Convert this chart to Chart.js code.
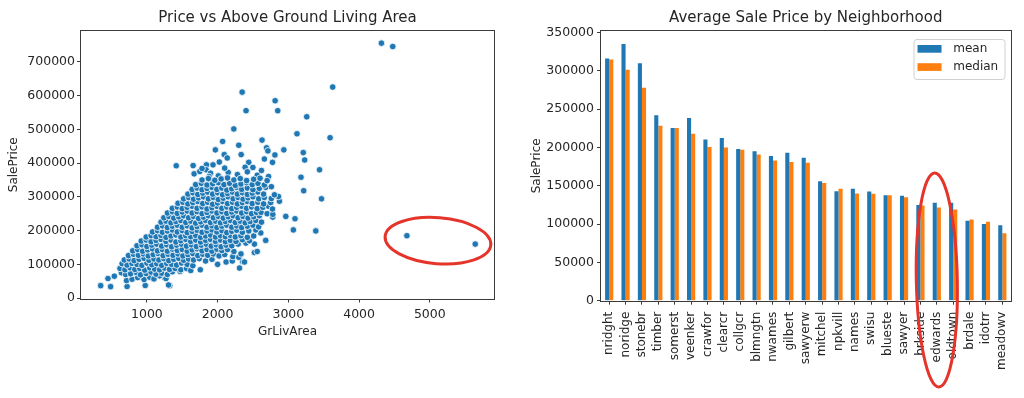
<!DOCTYPE html>
<html>
<head>
<meta charset="utf-8">
<script src="https://cdn.jsdelivr.net/npm/chart.js@4.4.0/dist/chart.umd.min.js"></script>
<style>
    html, body { margin: 0; padding: 0; background: #fff; }
    #wrap { position: relative; width: 1024px; height: 398px; }
    canvas { position: absolute; top: 0; }
    #scatter { left: 0; }
    #bars { left: 512px; }
</style>
</head>
<body>
<div id="wrap">
    <canvas id="scatter" width="512" height="398"></canvas>
    <canvas id="bars" width="512" height="398"></canvas>
</div>
<script>
// ---- data ----
// [GrLivArea, SalePrice]
const scatterPoints = [
    // outliers and sparse points
    [4316,755000],[4476,745000],[3627,625000],[2347,610000],[2813,584500],[2402,555000],[2850,555000],
    [3260,537000],[2229,501000],[3122,486600],[3590,475000],[2071,464000],[2628,468000],[2299,452800],
    [1968,439000],[2692,445000],[2711,436000],[2936,439000],[2094,425000],[2333,425000],[2810,424000],
    [3211,431000],[2136,415000],[2661,412000],[3231,409000],[2024,403000],[2440,402000],[2776,402000],
    [1415,392000],[1654,392500],[1842,394600],[1935,394600],[2389,387500],[2499,387000],[3441,380000],
    [3179,358000],[3217,318000],[3469,294000],[3071,202000],[3388,199000],[2964,242000],[3094,235000],
    [4676,184750],[5642,160000],
    [1668,368000],[1748,375000],[1837,380000],[1900,370000],[2010,362000],[2150,372000],[2280,366000],
    [2420,374000],[2560,364000],[2620,378000],[1780,384000],[2100,385000],[2720,360000],[1880,360000],
    // main cloud, bottom to top
    [347,37000],[487,34000],[720,34500],[977,37500],[1323,37000],[1306,39000],
    [450,58000],[540,65000],[712,52000],[790,56000],[870,61000],[960,55000],[1040,62000],[1100,57000],
    [1250,60000],[1180,66000],[1270,58000],
    [640,75000],[700,70000],[770,72000],[850,76000],[910,69000],[990,73000],[1060,77000],[1130,71000],
    [1210,74000],[1290,70000],[1360,78000],[1470,79000],
    [620,88000],[690,84000],[760,90000],[830,85000],[900,88000],[970,83000],[1040,90000],[1110,86000],
    [1180,84000],[1250,89000],[1320,85000],[1400,88000],[1480,84000],[1560,88000],[1620,82000],[1755,84000],
    [650,102000],[720,98000],[790,103000],[860,100000],[930,97000],[1000,104000],[1070,99000],[1140,102000],
    [1210,97000],[1280,103000],[1350,100000],[1420,98000],[1490,104000],[1570,100000],[1650,96000],
    [2000,100000],[2310,89000],
    [680,113000],[750,116000],[820,111000],[890,115000],[960,118000],[1030,112000],[1100,116000],
    [1170,113000],[1240,117000],[1310,111000],[1380,115000],[1450,118000],[1520,112000],[1590,116000],
    [1660,113000],[1740,117000],[1830,110000],[1920,115000],[2120,107000],[2207,110000],[2355,108000],
    [2380,107000],
    [740,126000],[810,130000],[880,127000],[950,131000],[1020,125000],[1090,129000],[1160,132000],
    [1230,126000],[1300,130000],[1370,127000],[1440,131000],[1510,125000],[1580,129000],[1650,132000],
    [1720,126000],[1790,130000],[1860,127000],[1940,131000],[2020,125000],[2100,129000],[2215,123000],
    [2300,121000],
    [800,140000],[870,144000],[940,139000],[1010,143000],[1080,146000],[1150,140000],[1220,144000],
    [1290,139000],[1360,145000],[1430,141000],[1500,144000],[1570,139000],[1640,143000],[1710,146000],
    [1780,140000],[1850,144000],[1920,139000],[1990,145000],[2060,141000],[2140,144000],[2230,138000],
    [2330,131000],[2520,135000],[2560,138000],
    [860,155000],[930,158000],[1000,153000],[1070,157000],[1140,160000],[1210,154000],[1280,158000],
    [1350,152000],[1420,157000],[1490,160000],[1560,154000],[1630,158000],[1700,153000],[1770,157000],
    [1840,160000],[1910,154000],[1980,158000],[2050,152000],[2120,157000],[2200,155000],[2290,160000],
    [2400,163000],[2520,160000],
    [920,169000],[990,172000],[1060,167000],[1130,171000],[1200,174000],[1270,168000],[1340,172000],
    [1410,166000],[1480,170000],[1550,174000],[1620,168000],[1690,172000],[1760,166000],[1830,171000],
    [1900,174000],[1970,168000],[2040,172000],[2110,167000],[2180,171000],[2260,168000],[2350,173000],
    [2450,170000],[2680,171000],
    [990,181000],[1060,185000],[1130,182000],[1200,186000],[1270,180000],[1340,184000],[1410,187000],
    [1480,181000],[1550,185000],[1620,182000],[1690,186000],[1760,180000],[1830,184000],[1900,187000],
    [1970,181000],[2040,185000],[2110,182000],[2180,186000],[2250,181000],[2330,185000],[2420,180000],
    [2510,184000],[2610,193000],
    [1080,196000],[1150,200000],[1220,195000],[1290,199000],[1360,202000],[1430,196000],[1500,200000],
    [1570,194000],[1640,198000],[1710,201000],[1780,195000],[1850,199000],[1920,202000],[1990,196000],
    [2060,200000],[2130,194000],[2200,198000],[2270,201000],[2350,195000],[2440,199000],[2540,202000],
    [1150,210000],[1220,214000],[1290,209000],[1360,213000],[1430,216000],[1500,210000],[1570,214000],
    [1640,208000],[1710,212000],[1780,216000],[1850,210000],[1920,214000],[1990,209000],[2060,213000],
    [2130,216000],[2200,210000],[2270,214000],[2340,209000],[2420,213000],[2500,216000],[2580,211000],
    [1200,225000],[1270,228000],[1340,223000],[1410,227000],[1480,230000],[1550,224000],[1620,228000],
    [1690,222000],[1760,226000],[1830,230000],[1900,224000],[1970,228000],[2040,223000],[2110,227000],
    [2180,230000],[2250,224000],[2320,228000],[2390,223000],[2460,227000],[2540,230000],[2620,225000],
    [1240,238000],[1310,242000],[1380,237000],[1450,241000],[1520,244000],[1590,238000],[1660,242000],
    [1730,236000],[1800,240000],[1870,244000],[1940,238000],[2010,242000],[2080,237000],[2150,241000],
    [2220,244000],[2290,238000],[2360,242000],[2430,237000],[2510,241000],[2590,244000],[2780,240000],
    [1290,252000],[1360,256000],[1430,251000],[1500,255000],[1570,258000],[1640,252000],[1710,256000],
    [1780,250000],[1850,254000],[1920,258000],[1990,252000],[2060,256000],[2130,251000],[2200,255000],
    [2270,258000],[2340,252000],[2410,256000],[2480,250000],[2550,254000],[2615,254000],[2700,250000],
    [2780,248000],
    [1360,266000],[1430,270000],[1500,265000],[1570,269000],[1640,272000],[1710,266000],[1780,270000],
    [1850,264000],[1920,268000],[1990,272000],[2060,266000],[2130,270000],[2200,265000],[2270,269000],
    [2340,272000],[2410,266000],[2480,270000],[2560,265000],[2640,269000],[2720,272000],[2776,264000],
    [1440,281000],[1510,284000],[1580,279000],[1650,283000],[1720,286000],[1790,280000],[1860,284000],
    [1930,278000],[2000,282000],[2070,286000],[2140,280000],[2210,284000],[2280,279000],[2350,283000],
    [2420,286000],[2490,280000],[2570,284000],[2650,279000],[2750,283000],[2874,287000],
    [1520,294000],[1590,298000],[1660,293000],[1730,297000],[1800,300000],[1870,294000],[1940,298000],
    [2010,292000],[2080,296000],[2150,300000],[2220,294000],[2290,298000],[2360,293000],[2430,297000],
    [2500,300000],[2580,294000],[2660,298000],[2760,295000],[2860,301000],
    [1580,308000],[1650,312000],[1720,307000],[1790,311000],[1860,314000],[1930,308000],[2000,312000],
    [2070,306000],[2140,310000],[2210,314000],[2280,308000],[2350,312000],[2420,307000],[2490,311000],
    [2570,314000],[2650,308000],[2803,306000],
    [1640,322000],[1710,326000],[1780,321000],[1850,325000],[1920,328000],[1990,322000],[2060,326000],
    [2130,320000],[2200,324000],[2270,328000],[2340,322000],[2420,326000],[2500,321000],[2590,325000],
    [2680,328000],[2760,330000],
    [1690,336000],[1770,340000],[1850,335000],[1930,339000],[2010,342000],[2090,336000],[2170,340000],
    [2250,334000],[2330,338000],[2410,342000],[2490,336000],[2570,340000],[2660,335000],
    [1780,350000],[1870,354000],[1960,349000],[2050,353000],[2140,356000],[2230,350000],[2320,354000],
    [2410,348000],[2510,352000],[2600,355000],[2700,348000]
];
const areaTicks = [1000, 2000, 3000, 4000, 5000];
const priceTicks = [0, 100000, 200000, 300000, 400000, 500000, 600000, 700000];

const neighborhoods = ['nridght', 'noridge', 'stonebr', 'timber', 'somerst', 'veenker', 'crawfor',
    'clearcr', 'collgcr', 'blmngtn', 'nwames', 'gilbert', 'sawyerw', 'mitchel', 'npkvill', 'names',
    'swisu', 'blueste', 'sawyer', 'brkside', 'edwards', 'oldtown', 'brdale', 'idotrr', 'meadowv'];
const meanPrice = [316000, 335000, 310000, 242000, 225500, 238500, 210500, 212500, 198000, 195000,
    189000, 193000, 186500, 156000, 143000, 146000, 142500, 137500, 137000, 125000, 128000, 128000,
    104500, 100000, 98500];
const medianPrice = [315000, 301500, 278000, 228500, 225500, 218000, 200500, 200000, 197000, 191000,
    183000, 181000, 180000, 153500, 146000, 140000, 139500, 137500, 135000, 124300, 121750, 119000,
    106000, 103000, 88000];
const barTicks = [0, 50000, 100000, 150000, 200000, 250000, 300000, 350000];

// ---- style ----
const BLUE = '#1f77b4';
const ORANGE = '#ff7f0e';
const TEXT = '#262626';
const AXIS = '#3a3a3a';
const RED = '#e5352b';

Chart.defaults.font.family = "'DejaVu Sans', sans-serif";
Chart.defaults.font.size = 12;
Chart.defaults.color = TEXT;

const framePlugin = {
    id: 'frame',
    afterDraw(chart) {
        const { ctx, chartArea: a } = chart;
        ctx.save();
        ctx.strokeStyle = AXIS;
        ctx.lineWidth = 1;
        ctx.strokeRect(Math.round(a.left) - 0.5, Math.round(a.top) - 0.5,
            Math.round(a.right - a.left) + 1, Math.round(a.bottom - a.top) + 1);
        ctx.restore();
    }
};

const ringPlugin = {
    id: 'ring',
    afterDraw(chart, args, o) {
        const { ctx, scales } = chart;
        const cx = scales.x.getPixelForValue(o.x);
        const cy = scales.y.getPixelForValue(o.y);
        ctx.save();
        ctx.strokeStyle = RED;
        ctx.lineWidth = 3;
        ctx.beginPath();
        ctx.ellipse(cx, cy, o.rx, o.ry, o.rot, 0, Math.PI * 2);
        ctx.stroke();
        ctx.restore();
    }
};

const boxLegend = {
    id: 'boxLegend',
    afterDraw(chart) {
        const { ctx, chartArea: a } = chart;
        const w = 91, h = 40;
        const x0 = a.right - 6 - w, y0 = a.top + 8;
        ctx.save();
        ctx.fillStyle = 'rgba(255,255,255,0.85)';
        ctx.strokeStyle = '#d0d0d0';
        ctx.lineWidth = 1;
        ctx.beginPath();
        ctx.roundRect(x0 + 0.5, y0 + 0.5, w, h, 3);
        ctx.fill();
        ctx.stroke();
        ctx.font = "12px 'DejaVu Sans', sans-serif";
        ctx.textBaseline = 'middle';
        chart.data.datasets.forEach((ds, i) => {
            const cy = y0 + 9.8 + i * 18.2;
            ctx.fillStyle = ds.backgroundColor;
            ctx.fillRect(x0 + 4, cy - 3.8, 24, 7.7);
            ctx.fillStyle = TEXT;
            ctx.fillText(ds.label, x0 + 39.7, cy);
        });
        ctx.restore();
    }
};

function titleOpts(text) {
    return {
        display: true, text, fullSize: false, color: TEXT,
        font: { size: 15, weight: 'normal' },
        padding: { top: 9, bottom: 4 }
    };
}

const tickGrid = { drawOnChartArea: false, drawTicks: true, tickLength: 4, color: AXIS, lineWidth: 1 };

// ---- scatter ----
new Chart(document.getElementById('scatter'), {
    type: 'scatter',
    data: {
        datasets: [{
            data: scatterPoints.map(p => ({ x: p[0], y: p[1] })),
            backgroundColor: BLUE,
            borderColor: '#ffffff',
            borderWidth: 0.8,
            pointRadius: 3.3
        }]
    },
    options: {
        responsive: false,
        animation: false,
        devicePixelRatio: 1,
        layout: { padding: { left: 6.8, right: 18, top: 0, bottom: 59.1 } },
        plugins: {
            legend: { display: false },
            tooltip: { enabled: false },
            title: titleOpts('Price vs Above Ground Living Area'),
            ring: { x: 5115, y: 170000, rx: 53, ry: 23, rot: 0.08 }
        },
        scales: {
            x: {
                type: 'linear', min: 68.6, max: 5907.4,
                afterBuildTicks: s => { s.ticks = areaTicks.map(v => ({ value: v })); },
                afterFit: s => { s.height = 40.4; },
                ticks: { callback: v => String(v), padding: 4.3, maxRotation: 0, color: TEXT, font: { size: 12.5 } },
                grid: tickGrid,
                border: { display: false },
                title: { display: true, text: 'GrLivArea', padding: 0, color: TEXT }
            },
            y: {
                type: 'linear', min: -1100, max: 791000,
                afterBuildTicks: s => { s.ticks = priceTicks.map(v => ({ value: v })); },
                afterFit: s => { s.width = 74.2; },
                ticks: { callback: v => String(v), padding: 2, color: TEXT, font: { size: 12.5 } },
                grid: tickGrid,
                border: { display: false },
                title: { display: true, text: 'SalePrice', padding: 0, color: TEXT }
            }
        }
    },
    plugins: [framePlugin, ringPlugin]
});

// ---- grouped bars ----
new Chart(document.getElementById('bars'), {
    type: 'bar',
    data: {
        labels: neighborhoods,
        datasets: [
            { label: 'mean', data: meanPrice, backgroundColor: BLUE, borderWidth: 0 },
            { label: 'median', data: medianPrice, backgroundColor: ORANGE, borderWidth: 0 }
        ]
    },
    options: {
        responsive: false,
        animation: false,
        devicePixelRatio: 1,
        categoryPercentage: 0.5,
        barPercentage: 1.0,
        layout: { padding: { left: 17.8, right: 9, top: 0, bottom: 0 } },
        plugins: {
            legend: { display: false },
            tooltip: { enabled: false },
            title: titleOpts('Average Sale Price by Neighborhood'),
            ring: { x: neighborhoods.indexOf('edwards'), y: 27000, rx: 20.5, ry: 107, rot: -0.02 }
        },
        scales: {
            x: {
                afterFit: s => { s.height = 97.3; },
                ticks: { autoSkip: false, minRotation: 90, maxRotation: 90, padding: 7, color: TEXT },
                grid: Object.assign({ offset: false }, tickGrid),
                border: { display: false }
            },
            y: {
                min: 0, max: 352060,
                afterBuildTicks: s => { s.ticks = barTicks.map(v => ({ value: v })); },
                afterFit: s => { s.width = 71.2; },
                ticks: { callback: v => String(v), padding: 3, color: TEXT, font: { size: 12.5 } },
                grid: tickGrid,
                border: { display: false },
                title: { display: true, text: 'SalePrice', padding: 0, color: TEXT }
            }
        }
    },
    plugins: [framePlugin, ringPlugin, boxLegend]
});
</script>
</body>
</html>
